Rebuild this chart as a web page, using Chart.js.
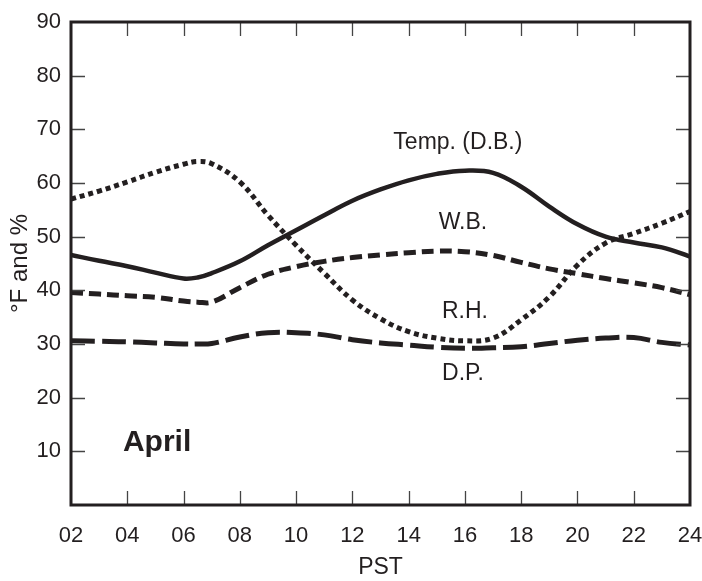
<!DOCTYPE html>
<html><head><meta charset="utf-8">
<style>html,body{margin:0;padding:0;background:#fff;}#wrap{width:702px;height:581px;}</style>
<script src="https://cdn.jsdelivr.net/npm/chart.js@4.4.1/dist/chart.umd.min.js"></script>
</head><body><div id="wrap"><canvas id="c" width="702" height="581"></canvas></div>
<script>
const hours = [2,3,4,5,6,6.5,7,8,9,10,11,12,13,14,15,16,17,18,19,20,21,22,23,24];
const tempDB = [46.6,45.5,44.5,43.3,42.2,42.4,43.2,45.4,48.4,51.2,54.0,56.7,58.8,60.5,61.7,62.3,61.9,59.3,55.6,52.3,50.0,48.9,48.0,46.3];
const wetBulb = [39.6,39.3,39.0,38.7,38.0,37.8,37.8,40.5,43.0,44.4,45.4,46.1,46.6,47.0,47.3,47.2,46.5,45.2,44.0,43.1,42.2,41.4,40.5,39.2];
const relHum = [57.0,58.5,60.2,62.0,63.5,64.0,63.6,60.2,54.0,48.4,43.2,38.2,34.7,32.3,31.1,30.6,31.1,34.5,38.8,44.7,48.8,50.6,52.5,54.7];
const dewPoint = [30.6,30.5,30.4,30.2,30.0,30.0,30.1,31.3,32.1,32.1,31.7,30.8,30.2,29.8,29.4,29.2,29.3,29.5,30.1,30.7,31.1,31.2,30.3,29.8];
const xTicks = [2,4,6,8,10,12,14,16,18,20,22,24];
const yTicks = [10,20,30,40,50,60,70,80,90];
const seriesLabels = [
  {text:'Temp. (D.B.)', x:15.75, y:67.6},
  {text:'W.B.', x:15.93, y:52.7},
  {text:'R.H.', x:16.0, y:36.1},
  {text:'D.P.', x:15.93, y:24.4}
];
const panelLabel = {text:'April', x:5.06, y:11.6};

const INK = '#231f20';
const FONT = '"Liberation Sans", Arial, Helvetica, sans-serif';

function pts(ys){ return hours.map((h,i)=>({x:h,y:ys[i]})); }

const framePlugin = {
  id:'frame',
  afterDatasetsDraw(chart){
    const ctx = chart.ctx, a = chart.chartArea;
    const xs = chart.scales.x, ys = chart.scales.y;
    ctx.save();
    ctx.strokeStyle = '#444';
    ctx.lineWidth = 1.3;
    const TL = 14;
    ctx.beginPath();
    xTicks.forEach(v=>{
      if(v<=xs.min||v>=xs.max) return;
      const px = Math.round(xs.getPixelForValue(v))+0.5;
      ctx.moveTo(px,a.bottom); ctx.lineTo(px,a.bottom-TL);
      ctx.moveTo(px,a.top); ctx.lineTo(px,a.top+TL);
    });
    yTicks.forEach(v=>{
      if(v<=ys.min||v>=ys.max) return;
      const py = Math.round(ys.getPixelForValue(v))+0.5;
      ctx.moveTo(a.left,py); ctx.lineTo(a.left+TL,py);
      ctx.moveTo(a.right,py); ctx.lineTo(a.right-TL,py);
    });
    ctx.stroke();
    ctx.strokeStyle = INK;
    ctx.lineWidth = 3;
    ctx.strokeRect(a.left, a.top, a.right-a.left, a.bottom-a.top);
    ctx.fillStyle = INK;
    ctx.textAlign = 'center';
    ctx.textBaseline = 'middle';
    ctx.font = '23px ' + FONT;
    seriesLabels.forEach(l=>{
      ctx.fillText(l.text, xs.getPixelForValue(l.x), ys.getPixelForValue(l.y));
    });
    ctx.font = 'bold 30px ' + FONT;
    ctx.fillText(panelLabel.text, xs.getPixelForValue(panelLabel.x), ys.getPixelForValue(panelLabel.y));
    ctx.restore();
  }
};

const common = {fill:false, pointRadius:0, borderColor:INK, tension:0.4, borderCapStyle:'butt'};

new Chart(document.getElementById('c'), {
  type:'line',
  data:{datasets:[
    Object.assign({label:'Temp. (D.B.)', data:pts(tempDB), borderWidth:4.5}, common),
    Object.assign({label:'W.B.', data:pts(wetBulb), borderWidth:5, borderDash:[12,6]}, common),
    Object.assign({label:'R.H.', data:pts(relHum), borderWidth:5, borderDash:[5,4]}, common),
    Object.assign({label:'D.P.', data:pts(dewPoint), borderWidth:5, borderDash:[24,7]}, common)
  ]},
  options:{
    responsive:false, animation:false, devicePixelRatio:1,
    layout:{padding:{left:0,right:12,top:22,bottom:0}},
    plugins:{legend:{display:false}, tooltip:{enabled:false}},
    scales:{
      x:{type:'linear', min:2, max:24,
        afterBuildTicks(s){ s.ticks = xTicks.map(v=>({value:v})); },
        afterFit(s){ s.height = 76; s.paddingLeft = 0; s.paddingRight = 0; },
        grid:{display:false, drawTicks:false}, border:{display:false},
        ticks:{color:INK, font:{family:FONT,size:22}, padding:18, maxRotation:0, autoSkip:false,
          callback:v=> (v<10?'0':'')+v},
        title:{display:true, text:'PST', color:INK, font:{family:FONT,size:23}, padding:{top:2,bottom:0}}
      },
      y:{type:'linear', min:0, max:90,
        afterBuildTicks(s){ s.ticks = yTicks.map(v=>({value:v})); },
        afterFit(s){ s.width = 71; s.paddingTop = 0; s.paddingBottom = 0; },
        grid:{display:false, drawTicks:false}, border:{display:false},
        ticks:{color:INK, font:{family:FONT,size:22}, padding:10},
        title:{display:true, text:'°F and %', color:INK, font:{family:FONT,size:24}, padding:{top:6,bottom:0}}
      }
    }
  },
  plugins:[framePlugin]
});
</script></body></html>
